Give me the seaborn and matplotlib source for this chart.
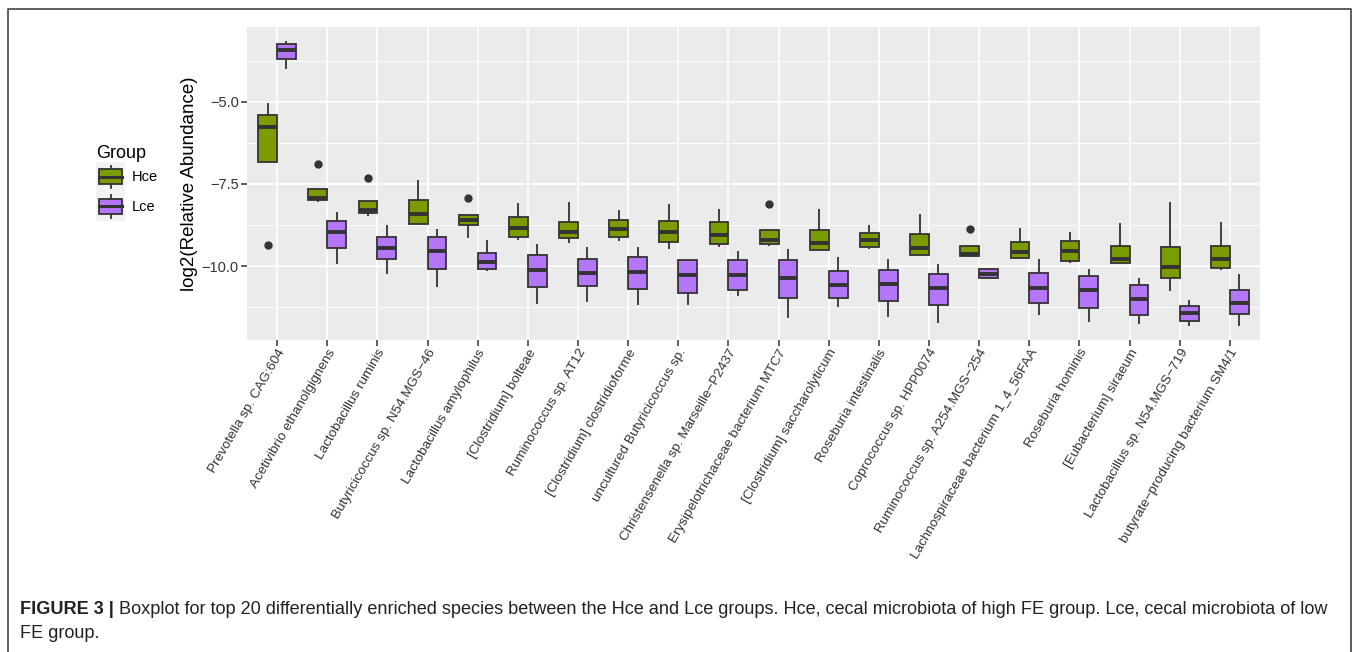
import numpy as np
import pandas as pd
import matplotlib
matplotlib.use('Agg')
import matplotlib.pyplot as plt
import seaborn as sns
from matplotlib.patches import Rectangle, Patch
from matplotlib.lines import Line2D
from matplotlib.legend_handler import HandlerBase
from matplotlib.ticker import MultipleLocator
from matplotlib import font_manager

species = ['Prevotella sp. CAG:604', 'Acetivibrio ethanolgignens', 'Lactobacillus ruminis',
           'Butyricicoccus sp. N54.MGS\u221246', 'Lactobacillus amylophilus', '[Clostridium] bolteae',
           'Ruminococcus sp. AT12', '[Clostridium] clostridioforme', 'uncultured Butyricicoccus sp.',
           'Christensenella sp. Marseille\u2212P2437', 'Erysipelotrichaceae bacterium MTC7',
           '[Clostridium] saccharolyticum', 'Roseburia intestinalis', 'Coprococcus sp. HPP0074',
           'Ruminococcus sp. A254.MGS\u2212254', 'Lachnospiraceae bacterium 1_4_56FAA',
           'Roseburia hominis', '[Eubacterium] siraeum', 'Lactobacillus sp. N54.MGS\u2212719',
           'butyrate\u2212producing bacterium SM4/1']

# five-number summaries (whisker low, Q1, median, Q3, whisker high)
hce_wlo = [-6.84, -8.05, -8.47, -8.72, -9.14, -9.22, -9.30, -9.24, -9.49, -9.41,
           -9.38, -9.52, -9.49, -9.65, -9.72, -9.75, -9.90, -9.95, -10.75, -10.12]
hce_q1 = [-6.84, -7.99, -8.39, -8.72, -8.74, -9.13, -9.14, -9.13, -9.26, -9.34,
          -9.32, -9.52, -9.43, -9.65, -9.68, -9.75, -9.84, -9.92, -10.35, -10.05]
hce_med = [-5.78, -7.92, -8.31, -8.41, -8.60, -8.84, -8.96, -8.87, -8.98, -9.05,
           -9.21, -9.29, -9.22, -9.44, -9.64, -9.58, -9.54, -9.79, -10.03, -9.80]
hce_q3 = [-5.40, -7.66, -8.02, -8.00, -8.44, -8.50, -8.66, -8.60, -8.63, -8.67,
          -8.89, -8.91, -9.00, -9.03, -9.40, -9.27, -9.23, -9.39, -9.43, -9.38]
hce_whi = [-5.05, -7.66, -8.02, -7.38, -8.44, -8.09, -8.04, -8.30, -8.10, -8.28,
           -8.89, -8.26, -8.74, -8.41, -9.40, -8.85, -8.96, -8.69, -8.06, -8.66]
hce_outliers = {0: -9.35, 1: -6.89, 2: -7.31, 4: -7.93, 10: -8.12, 14: -8.86}

lce_wlo = [-4.02, -9.94, -10.24, -10.64, -10.15, -11.15, -11.08, -11.20, -11.18, -10.91,
           -11.58, -11.26, -11.55, -11.72, -10.37, -11.48, -11.69, -11.76, -11.82, -11.82]
lce_q1 = [-3.69, -9.44, -9.78, -10.09, -10.09, -10.64, -10.62, -10.71, -10.82, -10.72,
          -10.98, -10.97, -11.05, -11.18, -10.35, -11.13, -11.28, -11.48, -11.66, -11.45]
lce_med = [-3.43, -8.97, -9.46, -9.53, -9.89, -10.12, -10.20, -10.19, -10.28, -10.28,
           -10.35, -10.58, -10.54, -10.66, -10.23, -10.66, -10.74, -11.00, -11.43, -11.11]
lce_q3 = [-3.26, -8.64, -9.13, -9.11, -9.59, -9.67, -9.80, -9.73, -9.82, -9.81,
          -9.82, -10.15, -10.11, -10.25, -10.09, -10.22, -10.30, -10.57, -11.21, -10.72]
lce_whi = [-3.15, -8.37, -8.74, -8.86, -9.21, -9.32, -9.43, -9.41, -9.82, -9.55,
           -9.49, -9.73, -9.80, -9.94, -10.06, -9.79, -10.09, -10.37, -11.04, -10.24]
lce_outliers = {}

groups = ['Hce', 'Lce']
colors = ['#7b9c00', '#b276f6']


def box_samples(wlo, q1, med, q3, whi, out):
    # 9 ordered values whose quartiles and whiskers give back the read summary
    lo = out if (out is not None and out < q1) else wlo
    hi = out if (out is not None and out > q3) else whi
    return [lo, wlo, q1, med, med, med, q3, whi, hi]


rows = []
for g, (wl, a, m, b, wh, outs) in zip(groups, [
        (hce_wlo, hce_q1, hce_med, hce_q3, hce_whi, hce_outliers),
        (lce_wlo, lce_q1, lce_med, lce_q3, lce_whi, lce_outliers)]):
    for i, sp in enumerate(species):
        for v in box_samples(wl[i], a[i], m[i], b[i], wh[i], outs.get(i)):
            rows.append({'species': sp, 'Group': g, 'value': v})
df = pd.DataFrame(rows)

plt.rcParams['font.family'] = ['Liberation Sans', 'DejaVu Sans']

W, H = 1358, 652
fig = plt.figure(figsize=(W / 100, H / 100), dpi=100)
ax = fig.add_axes([247 / W, 1 - 340 / H, 1013 / W, 313 / H])

sns.boxplot(data=df, x='species', y='value', hue='Group', order=species, hue_order=groups,
            palette=dict(zip(groups, colors)), saturation=1, width=0.75, whis=1.5,
            linewidth=1.3, linecolor='#333333', fliersize=5, showcaps=False,
            medianprops=dict(linewidth=2.8, color='#333333'),
            flierprops=dict(marker='o', markerfacecolor='#333333', markeredgecolor='#333333'),
            legend=False, ax=ax)

ax.set_facecolor('#ebebeb')
for s in ax.spines.values():
    s.set_visible(False)
ax.set_xlim(-0.6, len(species) - 0.4)
ax.set_ylim(-12.25, -2.73)
ax.yaxis.set_major_locator(MultipleLocator(2.5))
ax.yaxis.set_minor_locator(MultipleLocator(1.25))
ax.set_axisbelow(True)
ax.grid(True, which='major', axis='both', color='white', linewidth=1.2)
ax.grid(True, which='minor', axis='y', color='white', linewidth=0.6)
ax.tick_params(which='major', length=4, width=1.1, color='#333333', labelcolor='#333333')
ax.tick_params(axis='y', labelsize=10.5, pad=2)
ax.tick_params(axis='x', labelsize=9.7, pad=1)
ax.tick_params(which='minor', length=0)
ax.set_yticklabels(['\u2212%.1f' % abs(t) for t in ax.get_yticks()])
ax.set_xticks(range(len(species)))
ax.set_xticklabels(species, rotation=60, ha='right', va='top', rotation_mode='anchor')
ax.set_xlabel('')
ax.set_ylabel('log2(Relative Abundance)', fontsize=13.5, color='black')
ax.yaxis.set_label_coords(-0.048, 0.5)


class BoxKey(HandlerBase):
    def create_artists(self, legend, orig_handle, xdescent, ydescent, width, height, fontsize, trans):
        x0, y0 = -xdescent, -ydescent
        cx = x0 + width / 2
        bg = Rectangle((x0, y0), width, height, facecolor='#f2f2f2', edgecolor='none', transform=trans)
        wl = Line2D([cx, cx], [y0 + height * 0.12, y0 + height * 0.88], color='#333333', lw=1.3,
                    transform=trans)
        bx = Rectangle((x0 + width * 0.1, y0 + height * 0.25), width * 0.8, height * 0.5,
                       facecolor=orig_handle.get_facecolor(), edgecolor='#333333', lw=1.3,
                       transform=trans)
        md = Line2D([x0 + width * 0.1, x0 + width * 0.9], [y0 + height / 2] * 2, color='#333333',
                    lw=2.2, transform=trans)
        return [bg, wl, bx, md]


handles = [Patch(facecolor=c) for c in colors]
leg = fig.legend(handles, groups, handler_map={Patch: BoxKey()}, title='Group',
                 loc='upper left', bbox_to_anchor=(96 / W, 1 - 145 / H), frameon=False,
                 fontsize=10.5, title_fontsize=13, handlelength=2.0, handleheight=2.75,
                 labelspacing=0.0, handletextpad=0.45, borderpad=0, borderaxespad=0,
                 alignment='left')

# figure border (left, top, right)
fig.add_artist(Line2D([8 / W, 8 / W, 1351 / W, 1351 / W], [0, 1 - 9 / H, 1 - 9 / H, 0],
                      transform=fig.transFigure, color='#444444', lw=1.2))

# caption
cap_font = 'Liberation Sans'
names = {f.name for f in font_manager.fontManager.ttflist}
if 'Liberation Sans Narrow' in names:
    cap_font = 'Liberation Sans Narrow'
bold_txt = 'FIGURE 3 | '
line1 = ('Boxplot for top 20 differentially enriched species between the Hce and Lce groups. '
         'Hce, cecal microbiota of high FE group. Lce, cecal microbiota of low')
line2 = 'FE group.'
fs = 12
r = fig.canvas.get_renderer()
t1 = fig.text(20 / W, 1 - 609 / H, bold_txt, weight='bold', fontsize=fs, family=cap_font,
              va='center', color='#222222')
b1 = t1.get_window_extent(r)
t2 = fig.text(b1.x1 / W, 1 - 609 / H, line1, fontsize=fs, family=cap_font, va='center',
              color='#222222')
b2 = t2.get_window_extent(r)
fs = fs * (1338 - 20) / (b2.x1 - b1.x0)
t1.set_fontsize(fs)
b1 = t1.get_window_extent(r)
t2.set_fontsize(fs)
t2.set_x(b1.x1 / W)
fig.text(20 / W, 1 - 633 / H, line2, fontsize=fs, family=cap_font, va='center', color='#222222')

fig.savefig('out.png', dpi=100)
